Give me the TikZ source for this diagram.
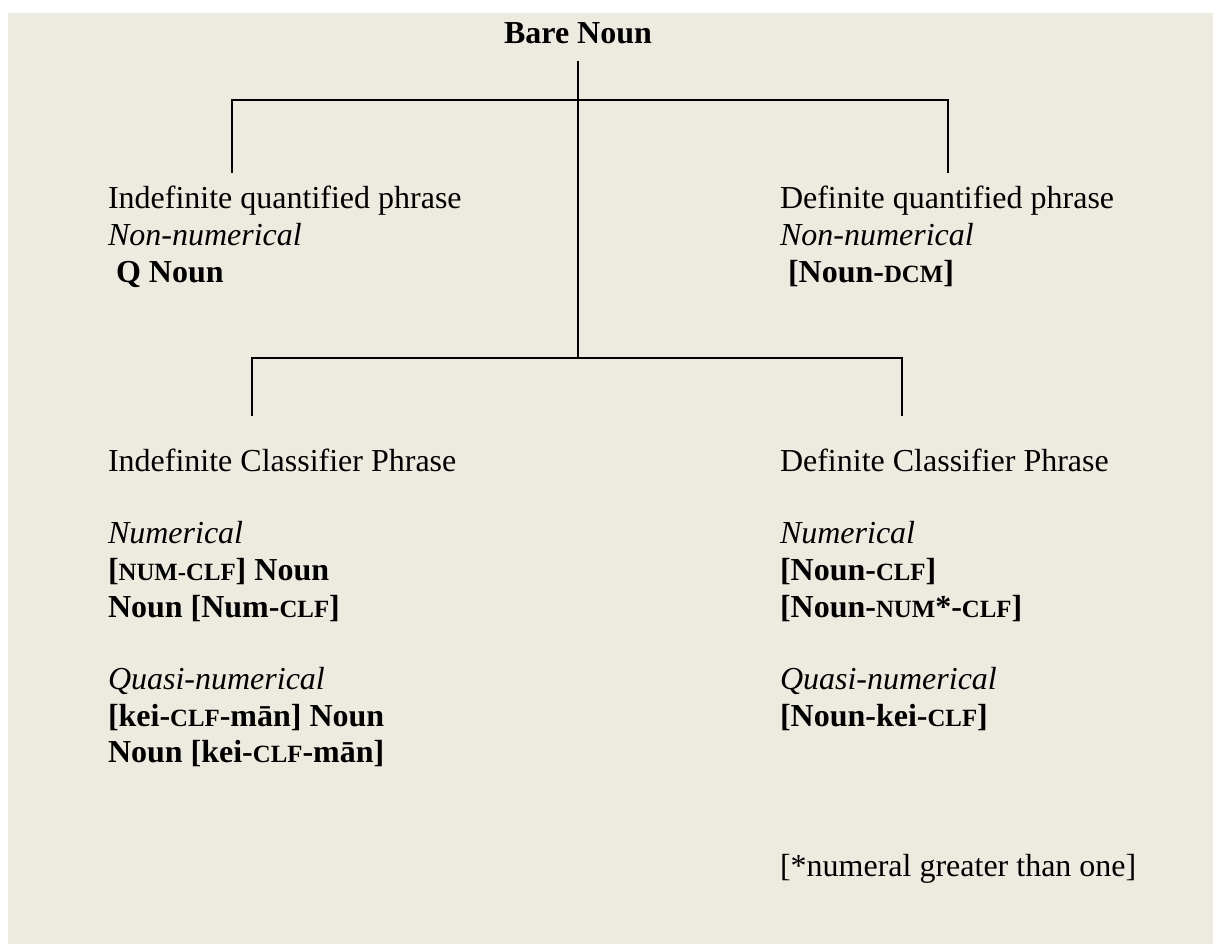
\documentclass[tikz,border=0pt]{standalone}
\usepackage{fontspec}
\setmainfont{Liberation Serif}
\definecolor{bg}{HTML}{EDEAE0}
\newcommand\smc[1]{{\fontsize{12.4}{14}\selectfont #1}}
\begin{document}
\begin{tikzpicture}[x=0.5pt,y=-0.5pt,
  font=\fontsize{16}{18}\selectfont,
  txt/.style={anchor=base west,inner sep=0pt,outer sep=0pt},
  ln/.style={line width=1pt,line cap=rect}]
\useasboundingbox (0,0) rectangle (1213,943);
\fill[white] (0,0) rectangle (1213,943);
\fill[bg] (8,13) rectangle (1214,944);
% title
\node[anchor=base,inner sep=0pt] (bare) at (578,43) {\bfseries Bare Noun};
% junction coordinates
\coordinate (top) at (578,62);
\coordinate (j1) at (578,100);
\coordinate (j2) at (578,358);
\coordinate (a1) at (232,172);
\coordinate (a2) at (232,100);
\coordinate (a3) at (948,100);
\coordinate (a4) at (948,172);
\coordinate (b1) at (252,415);
\coordinate (b2) at (252,358);
\coordinate (b3) at (902,358);
\coordinate (b4) at (902,415);
\draw[ln] (top) -- (j1) -- (j2);
\draw[ln] (a1) -- (a2) -- (a3) -- (a4);
\draw[ln] (b1) -- (b2) -- (b3) -- (b4);
% upper left
\node[txt] (iq1) at (108,208) {Indefinite quantified phrase};
\node[txt] (iq2) at (108,245) {\itshape Non-numerical};
\node[txt] (iq3) at (116,282) {\bfseries Q Noun};
% upper right
\node[txt] (dq1) at (780,208) {Definite quantified phrase};
\node[txt] (dq2) at (780,245) {\itshape Non-numerical};
\node[txt] (dq3) at (788,282) {\bfseries [Noun-\smc{DCM}]};
% lower left
\node[txt] (ic1) at (108,471) {Indefinite Classifier Phrase};
\node[txt] (ic2) at (108,543) {\itshape Numerical};
\node[txt] (ic3) at (108,580) {\bfseries [\smc{NUM-CLF}] Noun};
\node[txt] (ic4) at (108,617) {\bfseries Noun [Num-\smc{CLF}]};
\node[txt] (ic5) at (108,689) {\itshape Quasi-numerical};
\node[txt] (ic6) at (108,726) {\bfseries [kei-\smc{CLF}-mān] Noun};
\node[txt] (ic7) at (108,762) {\bfseries Noun [kei-\smc{CLF}-mān]};
% lower right
\node[txt] (dc1) at (780,471) {Definite Classifier Phrase};
\node[txt] (dc2) at (780,543) {\itshape Numerical};
\node[txt] (dc3) at (780,580) {\bfseries [Noun-\smc{CLF}]};
\node[txt] (dc4) at (780,617) {\bfseries [Noun-\smc{NUM}*-\smc{CLF}]};
\node[txt] (dc5) at (780,689) {\itshape Quasi-numerical};
\node[txt] (dc6) at (780,726) {\bfseries [Noun-kei-\smc{CLF}]};
\node[txt] (note) at (780,876) {[*numeral greater than one]};
\end{tikzpicture}
\end{document}
